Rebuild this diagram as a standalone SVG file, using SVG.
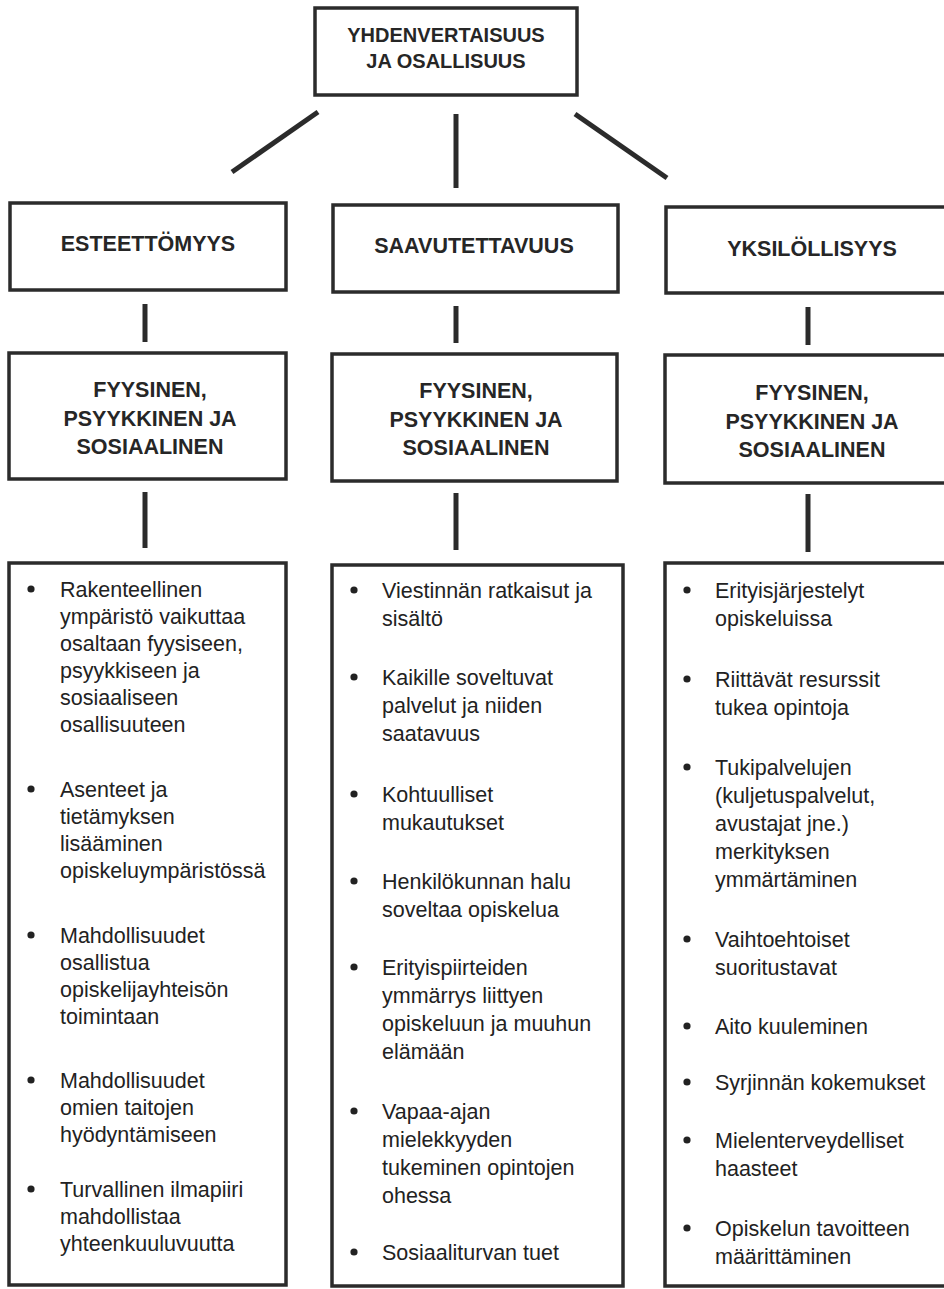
<svg xmlns="http://www.w3.org/2000/svg" width="944" height="1289" viewBox="0 0 944 1289">
<style>
.box{fill:#fff;stroke:#2b2b2b;stroke-width:3.5}
.conn{stroke:#2b2b2b;stroke-width:5;fill:none}
.h{font-family:"Liberation Sans",Arial,sans-serif;font-weight:bold;font-size:21.5px;fill:#262626;text-anchor:middle}
.top{font-size:20px}
.t{font-family:"Liberation Sans",Arial,sans-serif;font-size:21.5px;fill:#222}
.b{fill:#222}
</style>
<rect width="944" height="1289" fill="#fff"/>
<g id="connectors">
<line class="conn" x1="318" y1="112" x2="232" y2="172"/>
<line class="conn" x1="456" y1="114" x2="456" y2="188"/>
<line class="conn" x1="575" y1="114" x2="667" y2="178"/>
<line class="conn" x1="145" y1="304" x2="145" y2="342"/>
<line class="conn" x1="456" y1="306" x2="456" y2="343"/>
<line class="conn" x1="808" y1="307" x2="808" y2="345"/>
<line class="conn" x1="145" y1="492" x2="145" y2="548"/>
<line class="conn" x1="456" y1="493" x2="456" y2="550"/>
<line class="conn" x1="808" y1="494" x2="808" y2="552"/>
</g>
<g id="top">
<rect class="box" x="315" y="8" width="262" height="87"/>
<text class="h top" x="446" y="42">YHDENVERTAISUUS</text>
<text class="h top" x="446" y="68">JA OSALLISUUS</text>
</g>
<g id="esteettomyys">
<rect class="box" x="10" y="203" width="276" height="87"/>
<text class="h" x="148" y="251">ESTEETTÖMYYS</text>
</g>
<g id="saavutettavuus">
<rect class="box" x="333" y="205" width="285" height="87"/>
<text class="h" x="474" y="253">SAAVUTETTAVUUS</text>
</g>
<g id="yksilollisyys">
<rect class="box" x="666" y="207" width="290" height="86"/>
<text class="h" x="812" y="256">YKSILÖLLISYYS</text>
</g>
<g id="fps1">
<rect class="box" x="9" y="353" width="277" height="126"/>
<text class="h" x="150" y="397">FYYSINEN,</text>
<text class="h" x="150" y="426">PSYYKKINEN JA</text>
<text class="h" x="150" y="454">SOSIAALINEN</text>
</g>
<g id="fps2">
<rect class="box" x="332" y="354" width="285" height="127"/>
<text class="h" x="476" y="398">FYYSINEN,</text>
<text class="h" x="476" y="427">PSYYKKINEN JA</text>
<text class="h" x="476" y="455">SOSIAALINEN</text>
</g>
<g id="fps3">
<rect class="box" x="665" y="355" width="290" height="128"/>
<text class="h" x="812" y="400">FYYSINEN,</text>
<text class="h" x="812" y="429">PSYYKKINEN JA</text>
<text class="h" x="812" y="457">SOSIAALINEN</text>
</g>
<g id="list1">
<rect class="box" x="9" y="563" width="277" height="722"/>
<circle class="b" cx="31" cy="589" r="3.6"/>
<circle class="b" cx="31" cy="789" r="3.6"/>
<circle class="b" cx="31" cy="935" r="3.6"/>
<circle class="b" cx="31" cy="1080" r="3.6"/>
<circle class="b" cx="31" cy="1189" r="3.6"/>
<text class="t"><tspan x="60" y="597">Rakenteellinen</tspan><tspan x="60" y="624">ympäristö vaikuttaa</tspan><tspan x="60" y="651">osaltaan fyysiseen,</tspan><tspan x="60" y="678">psyykkiseen ja</tspan><tspan x="60" y="705">sosiaaliseen</tspan><tspan x="60" y="732">osallisuuteen</tspan></text>
<text class="t"><tspan x="60" y="797">Asenteet ja</tspan><tspan x="60" y="824">tietämyksen</tspan><tspan x="60" y="851">lisääminen</tspan><tspan x="60" y="878">opiskeluympäristössä</tspan></text>
<text class="t"><tspan x="60" y="943">Mahdollisuudet</tspan><tspan x="60" y="970">osallistua</tspan><tspan x="60" y="997">opiskelijayhteisön</tspan><tspan x="60" y="1024">toimintaan</tspan></text>
<text class="t"><tspan x="60" y="1088">Mahdollisuudet</tspan><tspan x="60" y="1115">omien taitojen</tspan><tspan x="60" y="1142">hyödyntämiseen</tspan></text>
<text class="t"><tspan x="60" y="1197">Turvallinen ilmapiiri</tspan><tspan x="60" y="1224">mahdollistaa</tspan><tspan x="60" y="1251">yhteenkuuluvuutta</tspan></text>
</g>
<g id="list2">
<rect class="box" x="332" y="565" width="291" height="721"/>
<circle class="b" cx="354" cy="590" r="3.6"/>
<circle class="b" cx="354" cy="677" r="3.6"/>
<circle class="b" cx="354" cy="794" r="3.6"/>
<circle class="b" cx="354" cy="881" r="3.6"/>
<circle class="b" cx="354" cy="967" r="3.6"/>
<circle class="b" cx="354" cy="1111" r="3.6"/>
<circle class="b" cx="354" cy="1252" r="3.6"/>
<text class="t"><tspan x="382" y="598">Viestinnän ratkaisut ja</tspan><tspan x="382" y="626">sisältö</tspan></text>
<text class="t"><tspan x="382" y="685">Kaikille soveltuvat</tspan><tspan x="382" y="713">palvelut ja niiden</tspan><tspan x="382" y="741">saatavuus</tspan></text>
<text class="t"><tspan x="382" y="802">Kohtuulliset</tspan><tspan x="382" y="830">mukautukset</tspan></text>
<text class="t"><tspan x="382" y="889">Henkilökunnan halu</tspan><tspan x="382" y="917">soveltaa opiskelua</tspan></text>
<text class="t"><tspan x="382" y="975">Erityispiirteiden</tspan><tspan x="382" y="1003">ymmärrys liittyen</tspan><tspan x="382" y="1031">opiskeluun ja muuhun</tspan><tspan x="382" y="1059">elämään</tspan></text>
<text class="t"><tspan x="382" y="1119">Vapaa-ajan</tspan><tspan x="382" y="1147">mielekkyyden</tspan><tspan x="382" y="1175">tukeminen opintojen</tspan><tspan x="382" y="1203">ohessa</tspan></text>
<text class="t"><tspan x="382" y="1260">Sosiaaliturvan tuet</tspan></text>
</g>
<g id="list3">
<rect class="box" x="665" y="563" width="290" height="723"/>
<circle class="b" cx="687" cy="590" r="3.6"/>
<circle class="b" cx="687" cy="679" r="3.6"/>
<circle class="b" cx="687" cy="767" r="3.6"/>
<circle class="b" cx="687" cy="939" r="3.6"/>
<circle class="b" cx="687" cy="1026" r="3.6"/>
<circle class="b" cx="687" cy="1082" r="3.6"/>
<circle class="b" cx="687" cy="1140" r="3.6"/>
<circle class="b" cx="687" cy="1228" r="3.6"/>
<text class="t"><tspan x="715" y="598">Erityisjärjestelyt</tspan><tspan x="715" y="626">opiskeluissa</tspan></text>
<text class="t"><tspan x="715" y="687">Riittävät resurssit</tspan><tspan x="715" y="715">tukea opintoja</tspan></text>
<text class="t"><tspan x="715" y="775">Tukipalvelujen</tspan><tspan x="715" y="803">(kuljetuspalvelut,</tspan><tspan x="715" y="831">avustajat jne.)</tspan><tspan x="715" y="859">merkityksen</tspan><tspan x="715" y="887">ymmärtäminen</tspan></text>
<text class="t"><tspan x="715" y="947">Vaihtoehtoiset</tspan><tspan x="715" y="975">suoritustavat</tspan></text>
<text class="t"><tspan x="715" y="1034">Aito kuuleminen</tspan></text>
<text class="t"><tspan x="715" y="1090">Syrjinnän kokemukset</tspan></text>
<text class="t"><tspan x="715" y="1148">Mielenterveydelliset</tspan><tspan x="715" y="1176">haasteet</tspan></text>
<text class="t"><tspan x="715" y="1236">Opiskelun tavoitteen</tspan><tspan x="715" y="1264">määrittäminen</tspan></text>
</g>
</svg>
